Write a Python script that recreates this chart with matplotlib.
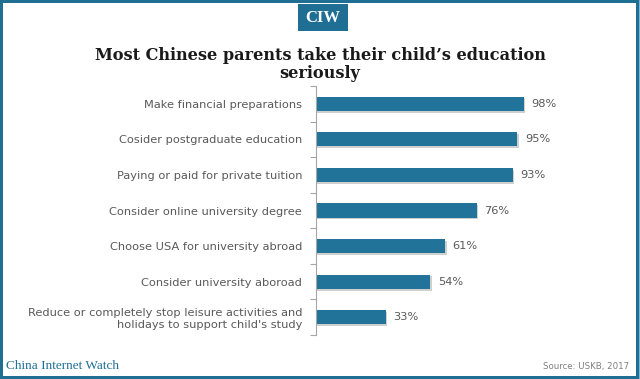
import matplotlib
matplotlib.use("Agg")
import matplotlib.pyplot as plt
from matplotlib.patches import Rectangle
import numpy as np

categories = [
    "Make financial preparations",
    "Cosider postgraduate education",
    "Paying or paid for private tuition",
    "Consider online university degree",
    "Choose USA for university abroad",
    "Consider university aboroad",
    "Reduce or completely stop leisure activities and\nholidays to support child's study",
]
values = [98, 95, 93, 76, 61, 54, 33]

W, H = 640, 379
fig = plt.figure(figsize=(W / 100, H / 100), dpi=100)
fig.patch.set_facecolor("white")

teal = "#1f6f95"
gray = "#595959"

ax = fig.add_axes([316 / W, 1 - 335 / H, (528 - 316) / W, (335 - 86) / H])
y = np.arange(len(categories))
# subtle shadow
ax.barh(y + 0.05, values, height=0.4, left=0.6, color="#cfcfcf", zorder=1)
ax.barh(y, values, height=0.4, color="#21739a", zorder=2)
ax.set_xlim(0, 100)
ax.set_ylim(len(categories) - 0.5, -0.5)
for s in ["top", "right", "bottom"]:
    ax.spines[s].set_visible(False)
ax.spines["left"].set_color("#a6a6a6")
ax.spines["left"].set_linewidth(0.8)
ax.set_xticks([])
ax.set_yticks(y)
ax.set_yticklabels(categories, fontsize=8.2, color=gray, family="DejaVu Sans", linespacing=1.2)
ax.tick_params(axis="y", which="major", length=0, pad=10)
ax.set_yticks(np.arange(-0.5, len(categories)), minor=True)
ax.tick_params(axis="y", which="minor", length=4, color="#a6a6a6", width=0.8)
for yi, v in zip(y, values):
    ax.text(v + 3.5, yi, f"{v}%", va="center", ha="left", fontsize=8.2, color=gray, family="DejaVu Sans")

# Title
fig.text(320 / W, 1 - 55 / H, "Most Chinese parents take their child\u2019s education",
         ha="center", va="center", fontsize=11.6, fontweight="bold", family="DejaVu Serif", color="#1a1a1a")
fig.text(320 / W, 1 - 74 / H, "seriously",
         ha="center", va="center", fontsize=11.6, fontweight="bold", family="DejaVu Serif", color="#1a1a1a")

# CIW badge
fig.patches.append(Rectangle((298 / W, 1 - 31 / H), 50 / W, 27 / H, transform=fig.transFigure,
                             facecolor=teal, edgecolor="none"))
fig.text(323 / W, 1 - 18 / H, "CIW", ha="center", va="center", fontsize=12, fontweight="bold",
         family="Liberation Serif", color="white")

# Footer
fig.text(6 / W, 1 - 366 / H, "China Internet Watch", ha="left", va="center", fontsize=9.5,
         family="Liberation Serif", color=teal)
fig.text(629 / W, 1 - 366 / H, "Source: USKB, 2017", ha="right", va="center", fontsize=6.2,
         family="DejaVu Sans", color="#7f7f7f")

# Frame
fr = dict(transform=fig.transFigure, facecolor=teal, edgecolor="none")
fig.patches.append(Rectangle((0, 1 - 3 / H), 1, 3 / H, **fr))
fig.patches.append(Rectangle((0, 0), 1, 3 / H, **fr))
fig.patches.append(Rectangle((0, 0), 3 / W, 1, **fr))
fig.patches.append(Rectangle((1 - 4 / W, 0), 3 / W, 1, **fr))
fig.patches.append(Rectangle((1 - 1.5 / W, 0), 1.5 / W, 1, transform=fig.transFigure,
                             facecolor="#7fb5d5", edgecolor="none"))

fig.savefig("out.png", dpi=100)
